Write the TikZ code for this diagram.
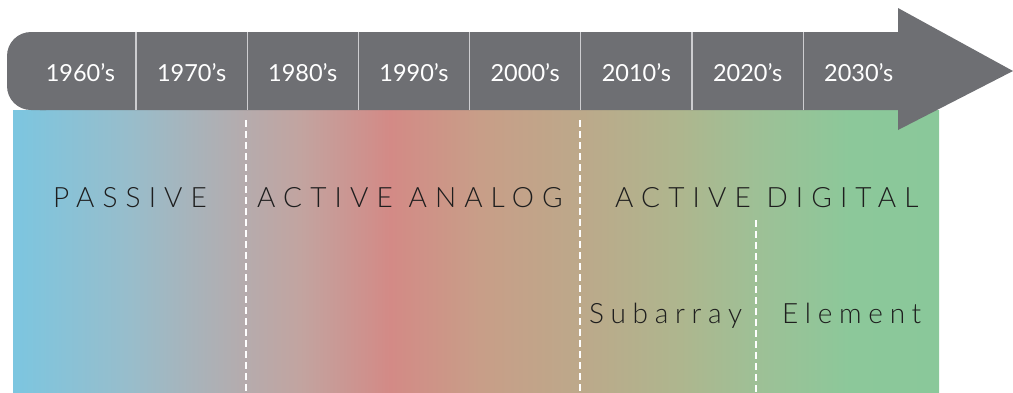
\documentclass[tikz,border=0pt]{standalone}
\usepackage{fontspec}
\setmainfont{Lato}
\newfontfamily\lightfont{Lato Light}
\definecolor{c0}{RGB}{124,198,224}
\definecolor{c1}{RGB}{152,189,203}
\definecolor{c2}{RGB}{180,172,174}
\definecolor{c3}{RGB}{194,164,160}
\definecolor{c4}{RGB}{211,138,134}
\definecolor{c5}{RGB}{200,158,136}
\definecolor{c6}{RGB}{189,168,138}
\definecolor{c7}{RGB}{174,182,142}
\definecolor{c8}{RGB}{158,192,150}
\definecolor{c9}{RGB}{140,200,154}
\definecolor{c10}{RGB}{138,200,154}
\definecolor{bodyc}{RGB}{110,111,115}
\definecolor{sepc}{RGB}{205,205,208}
\definecolor{txtc}{RGB}{30,30,30}
\pgfdeclarehorizontalshading{band}{100bp}{color(0bp)=(c0); color(25bp)=(c0); color(31.32bp)=(c1); color(37.26bp)=(c2); color(40.5bp)=(c3); color(45.36bp)=(c4); color(50.22bp)=(c5); color(55.35bp)=(c6); color(61.01bp)=(c7); color(65.12bp)=(c8); color(70.19bp)=(c9); color(75bp)=(c10); color(100bp)=(c10)}
\begin{document}
\begin{tikzpicture}[x=1pt,y=-1pt,
  yearlbl/.style={text=white,font=\fontsize{23.5}{23.5}\selectfont,anchor=base,inner sep=0pt},
  bandlbl/.style={text=txtc,font=\lightfont\fontsize{28}{28}\selectfont\addfontfeatures{LetterSpace=29},anchor=base west,inner sep=0pt},
  sublbl/.style={bandlbl,font=\lightfont\fontsize{28}{28}\selectfont\addfontfeatures{LetterSpace=24}},
  sepline/.style={draw=sepc,line width=1.2pt},
  divider/.style={draw=white,line width=2pt,dash pattern=on 7pt off 4pt}]
\useasboundingbox (0,0) rectangle (1013,392);
% gradient band
\shade[shading=band] (13,110) rectangle (939,392);
% timeline arrow
\fill[bodyc,rounded corners=24pt] (7,32) rectangle (70,110);
\fill[bodyc] (40,32) -- (898,32) -- (898,8) -- (1013,71) -- (898,130) -- (898,110) -- (40,110) -- cycle;
\foreach \i in {0,...,6}
  \draw[sepline] ({136+111.2*\i},32) -- ({136+111.2*\i},110);
\foreach \yr [count=\i from 0] in {1960,1970,1980,1990,2000,2010,2020,2030}
  \node[yearlbl] (y\yr) at ({80.4+111.2*\i},81.5) {\yr’s};
% dividers
\coordinate (d1t) at (246,120); \coordinate (d1b) at (246,392);
\coordinate (d2t) at (580,120); \coordinate (d2b) at (580,392);
\coordinate (d3t) at (756,220); \coordinate (d3b) at (756,392);
\draw[divider] (d1t) -- (d1b);
\draw[divider] (d2t) -- (d2b);
\draw[divider] (d3t) -- (d3b);
% labels
\node[bandlbl] (passive) at (53,207) {PASSIVE};
\node[bandlbl] (analog) at (257,207) {ACTIVE ANALOG};
\node[bandlbl] (digital) at (615,207) {ACTIVE DIGITAL};
\node[sublbl] (subarray) at (589,323) {Subarray};
\node[sublbl] (element) at (782,323) {Element};
\end{tikzpicture}
\end{document}
